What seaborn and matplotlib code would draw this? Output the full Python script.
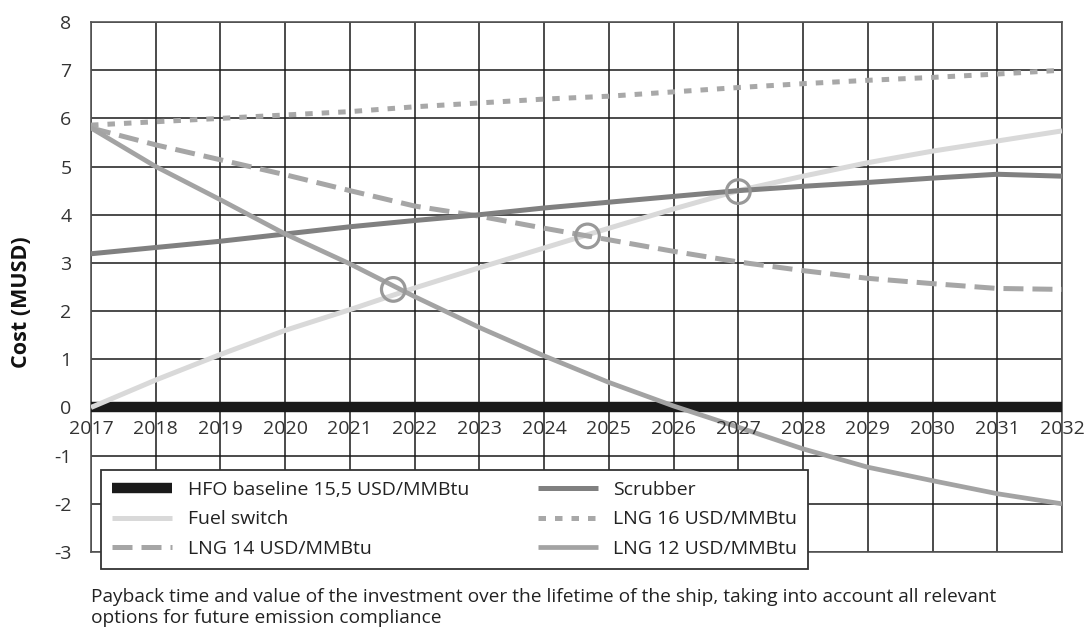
import matplotlib.pyplot as plt
import pandas as pd
import seaborn as sns

# values (MUSD per year)
years = list(range(2017, 2033))
hfo_baseline = [0.0] * 16
fuel_switch = [0.0, 0.57, 1.1, 1.6, 2.03, 2.48, 2.9, 3.31, 3.72, 4.12, 4.5, 4.8, 5.08, 5.32, 5.53, 5.74]
scrubber = [3.19, 3.32, 3.45, 3.6, 3.75, 3.88, 4.0, 4.14, 4.26, 4.38, 4.5, 4.59, 4.67, 4.76, 4.84, 4.8]
lng16 = [5.86, 5.93, 6.0, 6.07, 6.14, 6.24, 6.32, 6.4, 6.46, 6.55, 6.64, 6.72, 6.79, 6.85, 6.92, 7.0]
lng14 = [5.8, 5.45, 5.14, 4.83, 4.5, 4.18, 3.97, 3.72, 3.48, 3.24, 3.02, 2.84, 2.68, 2.57, 2.47, 2.45]
lng12 = [5.8, 5.0, 4.31, 3.6, 2.98, 2.3, 1.66, 1.07, 0.52, 0.03, -0.41, -0.86, -1.24, -1.52, -1.79, -2.0]

# payback points marked with circles
payback_years = [2021.67, 2024.67, 2027.0]
payback_values = [2.45, 3.56, 4.48]

caption = ("Payback time and value of the investment over the lifetime of the ship, taking into account all relevant\n"
           "options for future emission compliance")


def build_frame():
    df = pd.DataFrame({'year': years, 'HFO': hfo_baseline, 'Fuel': fuel_switch, 'Scrubber': scrubber,
                       'LNG16': lng16, 'LNG14': lng14, 'LNG12': lng12})
    return df


def plot_payback(df):
    sns.set_style('white')
    plt.rcParams['font.family'] = ['Open Sans', 'DejaVu Sans']
    plt.rcParams['axes.unicode_minus'] = False
    plt.rcParams['lines.solid_capstyle'] = 'butt'
    plt.rcParams['lines.dash_capstyle'] = 'butt'
    fig = plt.figure(figsize=(10.86, 6.28), dpi=100)
    ax = fig.add_axes([91 / 1086, 1 - 552 / 628, (1062 - 91) / 1086, (552 - 22) / 628])

    sns.lineplot(data=df, x='year', y='HFO', ax=ax, color='#1a1a1a', linewidth=7.5,
                 label='HFO baseline 15,5 USD/MMBtu', zorder=3)
    sns.lineplot(data=df, x='year', y='Fuel', ax=ax, color='#d9d9d9', linewidth=3.6,
                 label='Fuel switch', zorder=4)
    sns.lineplot(data=df, x='year', y='LNG14', ax=ax, color='#a6a6a6', linewidth=3.6,
                 linestyle=(0, (4, 1.8)), label='LNG 14 USD/MMBtu', zorder=4)
    sns.lineplot(data=df, x='year', y='Scrubber', ax=ax, color='#808080', linewidth=3.6,
                 label='Scrubber', zorder=4)
    sns.lineplot(data=df, x='year', y='LNG16', ax=ax, color='#a8a8a8', linewidth=3.6,
                 linestyle=(0, (1.5, 1.8)), label='LNG 16 USD/MMBtu', zorder=4)
    sns.lineplot(data=df, x='year', y='LNG12', ax=ax, color='#a3a3a3', linewidth=3.4,
                 label='LNG 12 USD/MMBtu', zorder=4)

    sns.scatterplot(x=payback_years, y=payback_values, ax=ax, s=290, marker='o',
                    facecolor='none', edgecolor='#999999', linewidth=2.3, zorder=6)

    ax.set_xlim(2017, 2032)
    ax.set_ylim(-3, 8)
    ax.set_xticks(years)
    ax.set_yticks(range(-3, 9))
    ax.grid(True, color='#1a1a1a', linewidth=1.1)
    ax.set_axisbelow(True)
    for s in ax.spines.values():
        s.set_color('#555555')
        s.set_linewidth(1.2)
    ax.tick_params(axis='x', length=0, labelbottom=False)
    ax.tick_params(axis='y', length=0, pad=14, labelsize=14, labelcolor='#333333')
    ax.set_xlabel('')
    ax.set_ylabel('Cost (MUSD)', fontsize=15.5, fontweight='bold', color='#111111')
    ax.yaxis.set_label_coords(-0.061, 0.472)

    # year labels sit just under the zero line
    for y in years:
        ax.annotate(str(y), (y, 0), xytext=(0, -9), textcoords='offset points',
                    ha='center', va='top', fontsize=14, color='#333333', zorder=7)

    leg = ax.legend(loc='upper left',
                    bbox_to_anchor=(101 / 1086, 1 - 567 / 628, 707 / 1086, 97 / 628),
                    bbox_transform=fig.transFigure, mode='expand', ncol=2, fontsize=14,
                    frameon=True, fancybox=False, framealpha=1, edgecolor='#333333',
                    handlelength=3.1, handletextpad=0.8, columnspacing=1.5, labelspacing=0.6,
                    borderpad=0.55, borderaxespad=0)
    leg.get_frame().set_linewidth(1.3)
    leg.set_zorder(10)
    for t in leg.get_texts():
        t.set_color('#222222')

    fig.text(91 / 1086, 1 - 588 / 628, caption, ha='left', va='top', fontsize=13.8,
             color='#222222', linespacing=1.2)
    fig.savefig('out.png', dpi=100)


plot_payback(build_frame())
